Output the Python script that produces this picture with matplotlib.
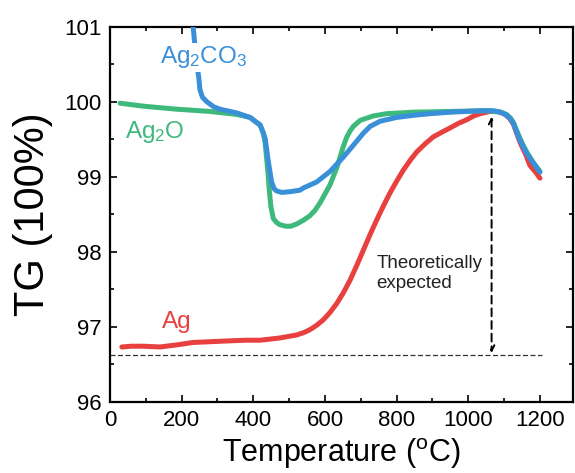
import matplotlib
matplotlib.use("Agg")
import matplotlib.pyplot as plt
from matplotlib.ticker import MultipleLocator

plt.rcParams['font.family'] = ['Liberation Sans', 'DejaVu Sans']
plt.rcParams['mathtext.default'] = 'regular'

# Ag2CO3 (blue)
t_co3 = [231, 240, 248, 251, 258, 270, 290, 307, 354, 391, 410, 419, 428, 433, 442, 451, 458, 465, 480, 502, 530, 540,
         577, 614, 651, 688, 707, 726, 754, 800, 850, 893, 950, 996, 1040, 1070, 1090, 1107, 1118, 1126, 1133, 1140,
         1150, 1163, 1180, 1195, 1200]
w_co3 = [101.05, 100.60, 100.31, 100.16, 100.06, 100.00, 99.93, 99.90, 99.85, 99.79, 99.72, 99.69, 99.58, 99.51,
         99.20, 98.93, 98.84, 98.81, 98.79, 98.80, 98.82, 98.85, 98.93, 99.07, 99.26, 99.47, 99.58, 99.67, 99.74,
         99.79, 99.82, 99.84, 99.86, 99.87, 99.88, 99.88, 99.86, 99.82, 99.77, 99.71, 99.62, 99.53, 99.43, 99.31,
         99.19, 99.09, 99.06]

# Ag2O (green)
t_o = [28, 93, 186, 279, 354, 391, 410, 419, 428, 433, 440, 445, 449, 456, 465, 474, 490, 505, 521, 540, 558, 572,
       586, 600, 614, 623, 633, 642, 651, 660, 670, 679, 698, 716, 735, 772, 847, 950, 1050, 1090, 1107, 1118, 1126,
       1133, 1140, 1150, 1163, 1180, 1200]
w_o = [99.98, 99.94, 99.90, 99.87, 99.83, 99.79, 99.72, 99.69, 99.58, 99.45, 99.10, 98.80, 98.60, 98.44, 98.39,
       98.36, 98.34, 98.34, 98.37, 98.42, 98.48, 98.55, 98.65, 98.77, 98.89, 99.00, 99.12, 99.26, 99.40, 99.52,
       99.61, 99.67, 99.75, 99.78, 99.81, 99.84, 99.86, 99.87, 99.88, 99.86, 99.83, 99.78, 99.72, 99.64, 99.56,
       99.45, 99.33, 99.20, 99.07]

# Ag (red)
t_ag = [33, 60, 93, 140, 190, 232, 280, 326, 380, 419, 474, 521, 540, 558, 577, 595, 614, 633, 651, 670, 688, 707,
        726, 744, 763, 781, 800, 819, 838, 856, 880, 902, 925, 949, 972, 996, 1015, 1033, 1060, 1080, 1100, 1115,
        1126, 1135, 1145, 1160, 1172, 1188, 1200]
w_ag = [96.73, 96.74, 96.74, 96.73, 96.76, 96.79, 96.80, 96.81, 96.82, 96.82, 96.85, 96.89, 96.92, 96.96, 97.02,
        97.09, 97.19, 97.31, 97.45, 97.62, 97.81, 98.02, 98.23, 98.42, 98.61, 98.78, 98.94, 99.09, 99.22, 99.33,
        99.44, 99.53, 99.59, 99.65, 99.71, 99.76, 99.81, 99.84, 99.87, 99.87, 99.84, 99.78, 99.70, 99.58, 99.45,
        99.30, 99.15, 99.06, 98.98]

theory_level = 96.62
arrow_x = 1065
arrow_top = 99.80

fig = plt.figure(figsize=(5.75, 4.73), dpi=100)
ax = fig.add_axes([0.1913, 0.1507, 0.8057, 0.7929])

c_red = '#E8403F'
c_green = '#3DB97C'
c_blue = '#3A90D8'

kw = dict(lw=3.6, solid_capstyle='round', solid_joinstyle='round')
ax.plot(t_ag, w_ag, color=c_red, zorder=2, **kw)
ax.plot(t_o, w_o, color=c_green, zorder=3, **kw)
ax.plot(t_co3, w_co3, color=c_blue, zorder=4, **kw)

ax.plot([0, 1205], [theory_level, theory_level], color='#333333', lw=0.9, ls=(0, (4, 2)), zorder=1)
ax.annotate('', xy=(arrow_x, theory_level + 0.03), xytext=(arrow_x, arrow_top),
            arrowprops=dict(arrowstyle='<->', color='black', lw=1.4, ls=(0, (4, 2.5)),
                            shrinkA=0, shrinkB=0, mutation_scale=10), zorder=5)

ax.text(744, 97.95, 'Theoretically\nexpected', fontsize=13.5, ha='left', va='top', color='#222222')

ax.text(140, 100.51, r'Ag$_2$CO$_3$', fontsize=17.5, color=c_blue, ha='left', va='baseline',
        bbox=dict(facecolor='white', edgecolor='none', pad=1), zorder=6)
ax.text(42, 99.51, r'Ag$_2$O', fontsize=17.5, color=c_green, ha='left', va='baseline', zorder=6)
ax.text(145, 96.98, 'Ag', fontsize=17.5, color=c_red, ha='left', va='baseline', zorder=6)

ax.set_xlim(0, 1293)
ax.set_ylim(96, 101)
ax.xaxis.set_major_locator(MultipleLocator(200))
ax.xaxis.set_minor_locator(MultipleLocator(100))
ax.yaxis.set_major_locator(MultipleLocator(1))
ax.yaxis.set_minor_locator(MultipleLocator(0.5))
ax.tick_params(which='both', direction='in', top=True, right=True, width=1.2)
ax.tick_params(which='major', length=5, labelsize=16, pad=6)
ax.tick_params(which='minor', length=3)
ax.tick_params(axis='x', which='both', labeltop=False)
ax.tick_params(axis='y', which='both', labelright=False)
for s in ax.spines.values():
    s.set_linewidth(1.6)

ax.set_xlabel(r'Temperature ($^{o}$C)', fontsize=22, labelpad=4)
ax.set_ylabel('TG (100%)', fontsize=30, labelpad=8)

fig.savefig('out.png', dpi=100)
